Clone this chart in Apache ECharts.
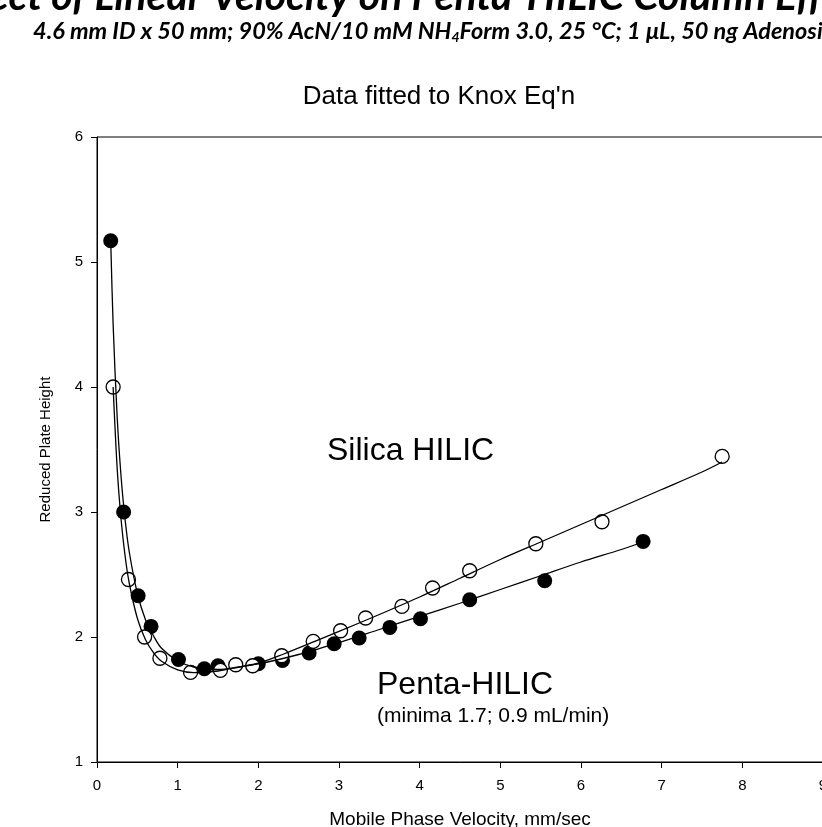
<!DOCTYPE html>
<html>
<head>
<meta charset="utf-8">
<script src="https://cdn.jsdelivr.net/npm/echarts@6/dist/echarts.min.js"></script>
<style>
  html, body { margin: 0; padding: 0; background: #fff; }
  #chart { width: 822px; height: 827px; }
</style>
</head>
<body>
<div id="chart"></div>
<script>
// Measured plate heights (filled = Penta-HILIC, open = Silica HILIC)
const pentaVelocity = [0.17, 0.33, 0.51, 0.67, 1.01, 1.33, 1.50, 2.00, 2.30, 2.63, 2.94, 3.25, 3.63, 4.01, 4.62, 5.55, 6.77];
const pentaHeight   = [5.17, 3.00, 2.33, 2.085, 1.82, 1.746, 1.77, 1.786, 1.813, 1.872, 1.946, 1.992, 2.077, 2.146, 2.298, 2.45, 2.765];

const silicaVelocity = [0.20, 0.39, 0.59, 0.78, 1.16, 1.53, 1.72, 1.93, 2.29, 2.68, 3.02, 3.33, 3.78, 4.16, 4.62, 5.44, 6.26, 7.75];
const silicaHeight   = [4.00, 2.46, 2.00, 1.83, 1.717, 1.733, 1.778, 1.77, 1.85, 1.965, 2.05, 2.152, 2.245, 2.392, 2.53, 2.746, 2.922, 3.445];

// Fitted (Knox) curves
const pentaFitVelocity = [0.17, 0.20, 0.25, 0.30, 0.35, 0.40, 0.50, 0.60, 0.70, 0.80, 1.00, 1.20, 1.50, 2.00, 2.50, 3.00, 3.50, 4.00, 4.50, 5.00, 5.50, 6.00, 6.50, 6.77];
const pentaFitHeight   = [5.17, 4.50, 3.76, 3.27, 2.93, 2.68, 2.35, 2.14, 2.01, 1.91, 1.81, 1.76, 1.74, 1.785, 1.86, 1.955, 2.06, 2.165, 2.27, 2.38, 2.49, 2.60, 2.70, 2.76];

const silicaFitVelocity = [0.20, 0.25, 0.30, 0.35, 0.40, 0.50, 0.60, 0.70, 0.80, 1.00, 1.20, 1.50, 1.75, 2.00, 2.30, 2.70, 3.00, 3.50, 4.00, 4.50, 5.00, 5.50, 6.00, 6.50, 7.00, 7.50, 7.75];
const silicaFitHeight   = [4.00, 3.35, 2.93, 2.64, 2.43, 2.15, 1.98, 1.875, 1.806, 1.737, 1.715, 1.728, 1.76, 1.79, 1.86, 1.965, 2.045, 2.18, 2.32, 2.47, 2.62, 2.76, 2.90, 3.04, 3.18, 3.32, 3.40];

const zip = (xs, ys) => xs.map((x, i) => [x, ys[i]]);

const chart = echarts.init(document.getElementById('chart'), null, { renderer: 'canvas' });

const axisFont = 'Liberation Sans';
const headFont = 'Lato';

chart.setOption({
  backgroundColor: '#fff',
  animation: false,
  grid: {
    left: 97, top: 137, right: -1, bottom: 65,
    outerBoundsMode: 'none', containLabel: false,
    show: true, borderColor: '#000', borderWidth: 1, backgroundColor: 'transparent'
  },
  xAxis: {
    type: 'value', min: 0, max: 9, interval: 1,
    name: 'Mobile Phase Velocity, mm/sec',
    nameLocation: 'middle', nameGap: 48,
    nameTextStyle: { fontFamily: axisFont, fontSize: 19, color: '#000' },
    axisLine: { lineStyle: { color: '#000', width: 1 } },
    axisTick: { show: true, inside: false, length: 6, lineStyle: { color: '#000' } },
    axisLabel: { fontFamily: axisFont, fontSize: 15, color: '#000', margin: 16 },
    splitLine: { show: false }
  },
  yAxis: {
    type: 'value', min: 1, max: 6, interval: 1,
    name: 'Reduced Plate Height',
    nameLocation: 'middle', nameGap: 44, nameRotate: 90,
    nameTextStyle: { fontFamily: axisFont, fontSize: 15, color: '#000' },
    axisLine: { show: true, lineStyle: { color: '#000', width: 1 } },
    axisTick: { show: true, inside: false, length: 6, lineStyle: { color: '#000' } },
    axisLabel: { fontFamily: axisFont, fontSize: 15, color: '#000', margin: 14 },
    splitLine: { show: false }
  },
  series: [
    {
      name: 'Penta-HILIC', type: 'scatter', z: 2,
      data: zip(pentaVelocity, pentaHeight),
      symbol: 'circle', symbolSize: 15,
      itemStyle: { color: '#000', opacity: 1 }
    },
    {
      name: 'Silica HILIC', type: 'scatter', z: 3,
      data: zip(silicaVelocity, silicaHeight),
      symbol: 'circle', symbolSize: 14,
      itemStyle: { color: '#fff', borderColor: '#000', borderWidth: 1.3, opacity: 1 }
    },
    {
      name: 'Penta-HILIC fit', type: 'line', z: 4,
      data: zip(pentaFitVelocity, pentaFitHeight),
      smooth: 0.3, showSymbol: false, symbol: 'none',
      lineStyle: { color: '#000', width: 1.3 }
    },
    {
      name: 'Silica HILIC fit', type: 'line', z: 4,
      data: zip(silicaFitVelocity, silicaFitHeight),
      smooth: 0.3, showSymbol: false, symbol: 'none',
      lineStyle: { color: '#000', width: 1.3 }
    }
  ],
  graphic: [
    {
      type: 'text', z: 10,
      style: {
        text: 'Effect of Linear Velocity on Penta-HILIC Column Efficiency',
        x: -58, y: -3, align: 'left', verticalAlign: 'middle',
        font: 'italic bold 41px ' + headFont, fill: '#000'
      }
    },
    {
      type: 'text', z: 10,
      style: {
        text: '4.6 mm ID x 50 mm; 90% AcN/10 mM NH{sub|4}Form 3.0, 25 °C; 1 μL, 50 ng Adenosine',
        x: 33, y: 31, align: 'left', verticalAlign: 'middle',
        font: 'italic bold 23.5px ' + headFont, fill: '#000',
        rich: {
          sub: { font: 'italic bold 14px ' + headFont, fill: '#000', verticalAlign: 'bottom', padding: [12, 0, 0, 0] }
        }
      }
    },
    {
      type: 'text', z: 10,
      style: {
        text: "Data fitted to Knox Eq'n",
        x: 439, y: 97, align: 'center', verticalAlign: 'middle',
        font: '26px ' + axisFont, fill: '#000'
      }
    },
    {
      type: 'text', z: 10,
      style: {
        text: 'Silica HILIC',
        x: 327, y: 451, align: 'left', verticalAlign: 'middle',
        font: '32px ' + axisFont, fill: '#000'
      }
    },
    {
      type: 'text', z: 10,
      style: {
        text: 'Penta-HILIC',
        x: 377, y: 685, align: 'left', verticalAlign: 'middle',
        font: '32px ' + axisFont, fill: '#000'
      }
    },
    {
      type: 'text', z: 10,
      style: {
        text: '(minima 1.7; 0.9 mL/min)',
        x: 377, y: 716, align: 'left', verticalAlign: 'middle',
        font: '21px ' + axisFont, fill: '#000'
      }
    }
  ]
});
</script>
</body>
</html>
